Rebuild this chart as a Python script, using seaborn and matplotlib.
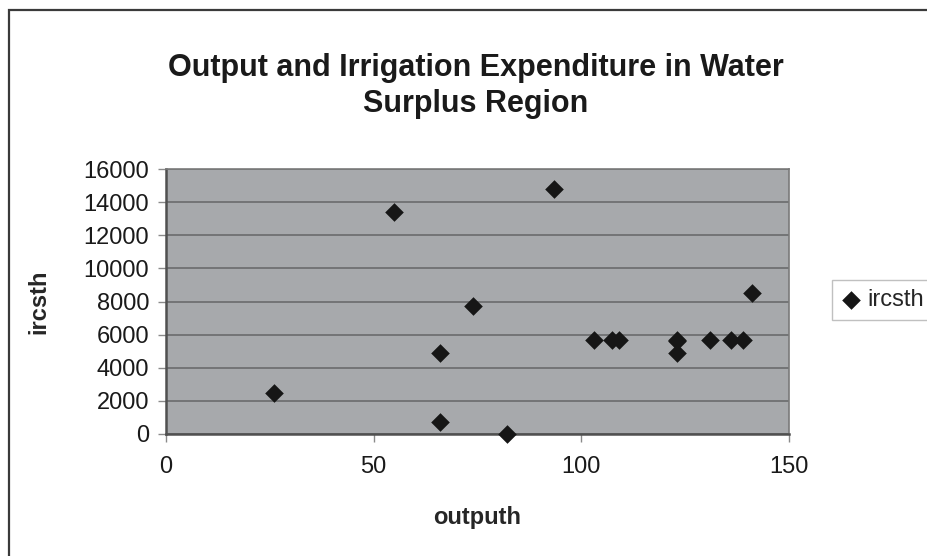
import numpy as np
import matplotlib
matplotlib.use('Agg')
import matplotlib.pyplot as plt
from matplotlib.patches import Rectangle
import pandas as pd
import seaborn as sns

# values
outputh = [26, 55, 66, 66, 74, 82, 93.5, 103, 107.5, 109, 123, 123, 123, 131, 136, 139, 141]
ircsth = [2450, 13400, 4900, 700, 7700, 0, 14800, 5700, 5700, 5700, 5700, 5600, 4900, 5700, 5700, 5700, 8500]
x_ticks = [0, 50, 100, 150]
y_ticks = list(range(0, 16001, 2000))
title = 'Output and Irrigation Expenditure in Water\nSurplus Region'

sns.set_style('white', {'axes.facecolor': '#a7a9ac'})
plt.rcParams['font.family'] = ['Liberation Sans', 'DejaVu Sans']

df = pd.DataFrame({'outputh': outputh, 'ircsth': ircsth})

fig = plt.figure(figsize=(9.27, 5.56), dpi=100)
ax = fig.add_axes([166/927, 1-434/556, (789-166)/927, (434-169)/556])

ax.grid(axis='y', color='#6f7072', linewidth=1.3)
ax.set_axisbelow(True)
sns.scatterplot(data=df, x='outputh', y='ircsth', marker='D', s=90, color='#161616',
                edgecolor='#161616', linewidth=0, label='ircsth', ax=ax, clip_on=False, zorder=3)

ax.set_xlim(0, 150)
ax.set_ylim(0, 16000)
ax.set_xticks(x_ticks)
ax.set_yticks(y_ticks)
ax.tick_params(axis='both', direction='out', length=6, width=1, color='#8a8a8a',
               labelsize=17, labelcolor='#1a1a1a', left=True, bottom=True)
ax.tick_params(axis='x', pad=10)
ax.tick_params(axis='y', pad=6)

for side in ['left', 'bottom']:
    ax.spines[side].set_color('#505050')
    ax.spines[side].set_linewidth(1.8)
for side in ['top', 'right']:
    ax.spines[side].set_color('#7a7a7a')
    ax.spines[side].set_linewidth(1.2)

ax.set_xlabel('outputh', fontsize=17, fontweight='bold', labelpad=20)
ax.set_ylabel('ircsth', fontsize=17, fontweight='bold', labelpad=24)

fig.text(476/927, 1-86/556, title, ha='center', va='center', fontsize=22,
         fontweight='bold', color='#1a1a1a', linespacing=1.25)

leg = ax.legend(loc='center left', bbox_to_anchor=(832/927, 1-300/556),
                bbox_transform=fig.transFigure, fontsize=17, frameon=True,
                fancybox=False, borderpad=0.4, handletextpad=0.3, handlelength=0.8,
                borderaxespad=0, facecolor='white', framealpha=1)
leg.get_frame().set_edgecolor('#c0c0c0')
leg.get_frame().set_linewidth(1.0)

# outer chart border (right and bottom run off the picture)
fig.add_artist(Rectangle((9/927, -0.1), 1.2, 1.1 - 10/556, transform=fig.transFigure,
                         fill=False, edgecolor='#3a3a3a', linewidth=1.6))

fig.savefig('out.png', dpi=100)
